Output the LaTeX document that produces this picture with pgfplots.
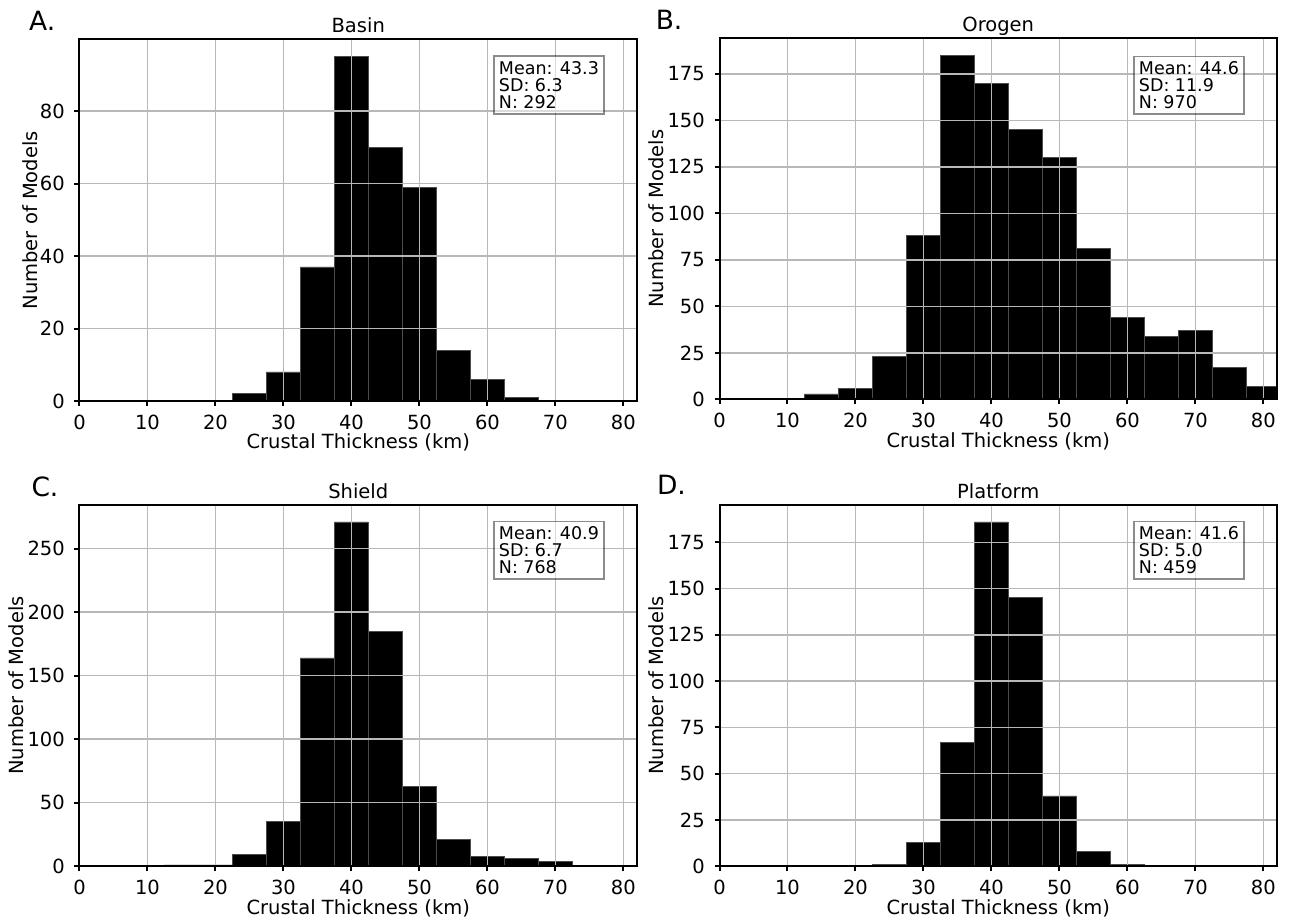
\documentclass[border=0pt]{standalone}
\usepackage{fontspec}
\setmainfont{DejaVu Sans}
\usepackage{pgfplots}
\pgfplotsset{compat=1.18}

\definecolor{gridgray}{RGB}{184,184,184}

% shared look of the four histograms
\pgfplotsset{
  every axis title shift=0pt,
  histo/.style={
    scale only axis, width=223pt, height=144.6pt,
    anchor=south west,
    xmin=0, xmax=82, ymin=0,
    xtick={0,10,...,80},
    grid=major, grid style={gridgray, line width=0.6pt},
    axis line style={line width=0.8pt},
    axis on top,
    tick align=outside, tick pos=left,
    major tick length=2pt,
    every tick/.style={black, line width=0.8pt},
    /pgf/number format/assume math mode=true,
    tick label style={font=\fontsize{7.8}{9}\selectfont},
    xticklabel style={anchor=north, inner sep=0pt, yshift=-3.4pt},
    yticklabel style={anchor=east, inner sep=0pt, xshift=-3.7pt},
    label style={font=\fontsize{7.8}{9}\selectfont},
    title style={font=\fontsize{7.8}{9}\selectfont, at={(0.5,1)}, anchor=base, yshift=2.6pt, inner sep=0pt},
    xlabel={Crustal Thickness (km)},
    xlabel style={at={(axis description cs:0.5,0)}, anchor=base, yshift=-19.2pt, inner sep=0pt},
    ylabel={Number of Models},
  },
  ylab2/.style={ylabel style={at={(axis description cs:-0.0762,0.5)}, anchor=base, inner sep=0pt}},
  ylab3/.style={ylabel style={at={(axis description cs:-0.1004,0.5)}, anchor=base, inner sep=0pt}},
  hist/.style={ybar interval, fill=black, draw=black!70, line width=0.3pt},
}
\tikzset{
  statbox/.style={anchor=north east, draw=black, draw opacity=0.45, line width=0.6pt,
    fill=white, fill opacity=0.5, text opacity=1, align=left,
    font=\fontsize{7}{6.9}\selectfont, inner xsep=2pt, inner ysep=2pt},
  letter/.style={anchor=base west, inner sep=0pt, font=\fontsize{10.6}{12}\selectfont},
}

\begin{document}
\begin{tikzpicture}
\useasboundingbox (0,0) rectangle (516.4pt,369.2pt);

% A. Basin
\begin{axis}[histo, ylab2, at={(31.8pt,208.8pt)}, title={Basin},
  ymax=99.75, ytick={0,20,40,60,80}]
  \addplot[hist] coordinates {(22.5,2) (27.5,8) (32.5,37) (37.5,95) (42.5,70)
    (47.5,59) (52.5,14) (57.5,6) (62.5,1) (67.5,0)};
  \coordinate (boxA) at (rel axis cs:0.942,0.956);
\end{axis}
\node[statbox] at (boxA) {Mean: 43.3\\SD: 6.3\\N: 292};

% B. Orogen
\begin{axis}[histo, ylab3, at={(287.8pt,209.4pt)}, title={Orogen},
  ymax=194.25, ytick={0,25,...,175}]
  \addplot[hist] coordinates {(12.5,3) (17.5,6) (22.5,23) (27.5,88) (32.5,185)
    (37.5,170) (42.5,145) (47.5,130) (52.5,81) (57.5,44) (62.5,34) (67.5,37)
    (72.5,17) (77.5,7) (82.5,0)};
  \coordinate (boxB) at (rel axis cs:0.942,0.951);
\end{axis}
\node[statbox] at (boxB) {Mean: 44.6\\SD: 11.9\\N: 970};

% C. Shield
\begin{axis}[histo, ylab3, at={(31.8pt,22.7pt)}, title={Shield},
  ymax=284.55, ytick={0,50,...,250}]
  \addplot[hist] coordinates {(12.5,1) (17.5,1) (22.5,9) (27.5,35) (32.5,164)
    (37.5,271) (42.5,185) (47.5,63) (52.5,21) (57.5,8) (62.5,6) (67.5,4) (72.5,0)};
  \coordinate (boxC) at (rel axis cs:0.942,0.956);
\end{axis}
\node[statbox] at (boxC) {Mean: 40.9\\SD: 6.7\\N: 768};

% D. Platform
\begin{axis}[histo, ylab3, at={(287.8pt,22.7pt)}, title={Platform},
  ymax=195.3, ytick={0,25,...,175}]
  \addplot[hist] coordinates {(22.5,1) (27.5,13) (32.5,67) (37.5,186) (42.5,145)
    (47.5,38) (52.5,8) (57.5,1) (62.5,0)};
  \coordinate (boxD) at (rel axis cs:0.942,0.956);
\end{axis}
\node[statbox] at (boxD) {Mean: 41.6\\SD: 5.0\\N: 459};

\node[letter] at (11.5pt,356.9pt) {A.};
\node[letter] at (262.1pt,357.2pt) {B.};
\node[letter] at (12.4pt,170.5pt) {C.};
\node[letter] at (262.6pt,171.2pt) {D.};
\end{tikzpicture}
\end{document}
